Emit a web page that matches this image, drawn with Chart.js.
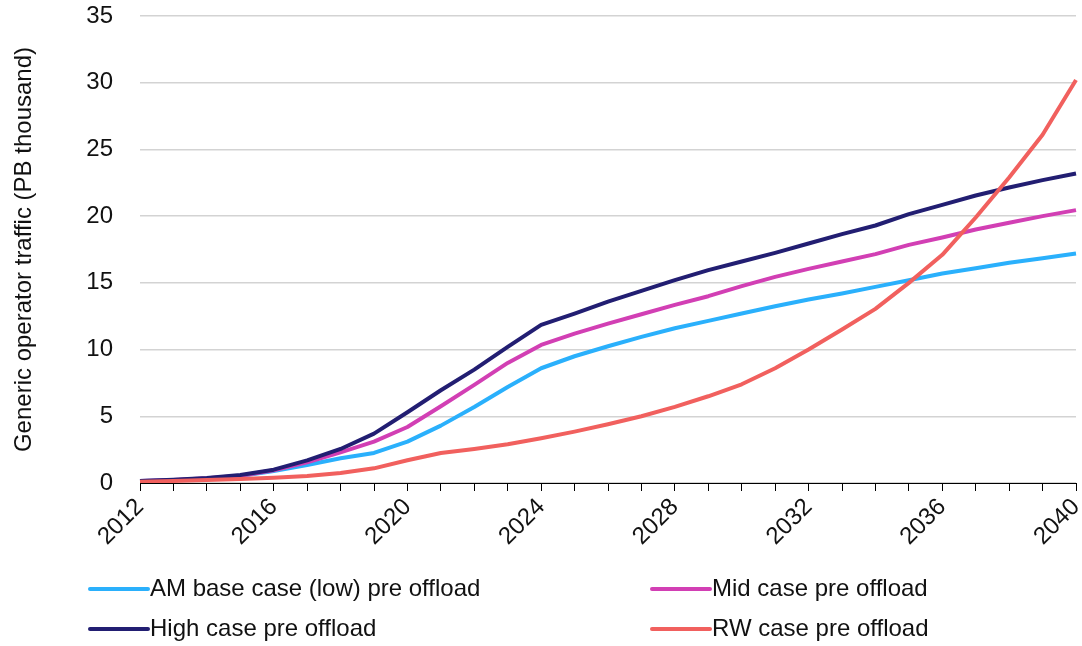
<!DOCTYPE html>
<html>
<head>
<meta charset="utf-8">
<script src="https://cdn.jsdelivr.net/npm/chart.js@4/dist/chart.umd.min.js"></script>
<style>
  html, body { margin: 0; padding: 0; background: #fff; }
  #wrap { position: relative; width: 1082px; height: 646px; }
</style>
</head>
<body>
<div id="wrap"><canvas id="c" width="1082" height="646"></canvas></div>
<script>
// Years on the horizontal axis
const years = [2012, 2013, 2014, 2015, 2016, 2017, 2018, 2019, 2020, 2021,
               2022, 2023, 2024, 2025, 2026, 2027, 2028, 2029, 2030, 2031,
               2032, 2033, 2034, 2035, 2036, 2037, 2038, 2039, 2040];

// Traffic per scenario (PB thousand)
const amBaseLow = [0.15, 0.2, 0.32, 0.52, 0.9, 1.35, 1.85, 2.25, 3.1, 4.3,
                   5.7, 7.2, 8.6, 9.5, 10.25, 10.95, 11.6, 12.15, 12.7, 13.25,
                   13.75, 14.2, 14.7, 15.2, 15.7, 16.1, 16.5, 16.85, 17.2];
const midCase = [0.15, 0.22, 0.35, 0.55, 0.95, 1.55, 2.3, 3.1, 4.2, 5.75,
                 7.35, 9.0, 10.35, 11.2, 11.95, 12.65, 13.35, 14.0, 14.75, 15.45,
                 16.05, 16.6, 17.15, 17.85, 18.4, 19.0, 19.5, 20.0, 20.45];
const highCase = [0.15, 0.25, 0.38, 0.6, 1.0, 1.7, 2.55, 3.7, 5.3, 6.95,
                  8.5, 10.2, 11.85, 12.7, 13.6, 14.4, 15.2, 15.95, 16.6, 17.25,
                  17.95, 18.65, 19.3, 20.15, 20.85, 21.55, 22.15, 22.7, 23.2];
const rwCase = [0.1, 0.15, 0.22, 0.3, 0.4, 0.52, 0.75, 1.1, 1.7, 2.25,
                2.55, 2.9, 3.35, 3.85, 4.4, 5.0, 5.7, 6.5, 7.4, 8.6,
                10.0, 11.5, 13.05, 15.0, 17.1, 19.9, 22.9, 26.1, 30.2];

const seriesNames = ['AM base case (low) pre offload', 'Mid case pre offload',
                     'High case pre offload', 'RW case pre offload'];
const yTicks = [0, 5, 10, 15, 20, 25, 30, 35];

const colors = ['#2AB0FC', '#D23FB4', '#221E72', '#F1605E'];
const FONT = '"Liberation Sans", Arial, sans-serif';
const TEXT = '#111';

// Two-column legend drawn under the plot
const legendGrid = {
  id: 'legendGrid',
  afterDraw(chart) {
    const ctx = chart.ctx;
    const cols = [88, 650];
    const rows = [589, 629];
    ctx.save();
    ctx.font = '24px ' + FONT;
    ctx.textBaseline = 'middle';
    ctx.textAlign = 'left';
    chart.data.datasets.forEach((ds, i) => {
      const x = cols[i % 2];
      const y = rows[Math.floor(i / 2)];
      ctx.strokeStyle = ds.borderColor;
      ctx.lineWidth = 4;
      ctx.lineCap = 'round';
      ctx.beginPath();
      ctx.moveTo(x + 2, y);
      ctx.lineTo(x + 60, y);
      ctx.stroke();
      ctx.fillStyle = TEXT;
      ctx.fillText(ds.label, x + 62, y);
    });
    ctx.restore();
  }
};

const dataSeries = [amBaseLow, midCase, highCase, rwCase];
const drawOrder = [3, 2, 1, 0];

new Chart(document.getElementById('c'), {
  type: 'line',
  data: {
    labels: years,
    datasets: dataSeries.map((d, i) => ({
      label: seriesNames[i],
      data: d,
      borderColor: colors[i],
      backgroundColor: colors[i],
      borderWidth: 4,
      pointRadius: 0,
      tension: 0,
      fill: false,
      order: drawOrder[i],
      borderJoinStyle: 'round'
    }))
  },
  options: {
    responsive: false,
    animation: false,
    devicePixelRatio: 1,
    layout: { padding: { top: 16, right: 6, bottom: 100, left: 10 } },
    plugins: {
      legend: { display: false },
      tooltip: { enabled: false }
    },
    scales: {
      x: {
        type: 'category',
        offset: false,
        afterFit(s) { s.height = 63; s.paddingLeft = 0; s.paddingRight = 0; },
        grid: {
          offset: false,
          drawOnChartArea: false,
          drawTicks: true,
          tickLength: 8,
          color: '#000',
          lineWidth: 1
        },
        border: { display: true, color: '#000', width: 1 },
        ticks: {
          autoSkip: false,
          maxRotation: 45,
          minRotation: 45,
          padding: 2,
          color: TEXT,
          font: { family: FONT, size: 24 },
          callback(v) { const y = years[v]; return y % 4 === 0 ? String(y) : ''; }
        }
      },
      y: {
        min: 0,
        max: 35,
        afterFit(s) { s.width = 130; s.paddingTop = 0; s.paddingBottom = 0; },
        afterBuildTicks(s) { s.ticks = yTicks.map(v => ({ value: v })); },
        grid: {
          color: '#D3D3D3',
          lineWidth: 1.5,
          drawTicks: false
        },
        border: { display: false },
        ticks: {
          padding: 27,
          color: TEXT,
          font: { family: FONT, size: 24 }
        },
        title: {
          display: true,
          text: 'Generic operator traffic (PB thousand)',
          color: TEXT,
          font: { family: FONT, size: 24 },
          padding: { top: 0, bottom: 8 }
        }
      }
    }
  },
  plugins: [legendGrid]
});
</script>
</body>
</html>
